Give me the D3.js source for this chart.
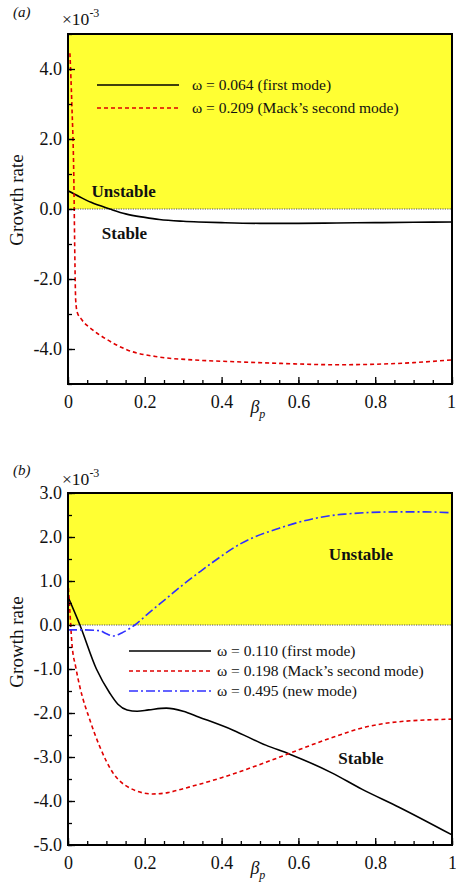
<!DOCTYPE html>
<html>
<head>
<meta charset="utf-8">
<script src="https://cdn.jsdelivr.net/npm/d3@7"></script>
<style>
  body { margin: 0; background: #fff; }
  svg text { font-family: "Liberation Serif", "Times New Roman", serif; fill: #111; }
</style>
</head>
<body>
<div id="content"></div>
<script>
'use strict';
//////////////////// input data
// panel (a)
const betaA1   = [0, 0.03, 0.06, 0.109, 0.15, 0.2, 0.238, 0.3, 0.34, 0.4, 0.5, 0.6, 0.7, 0.8, 0.9, 1.0];
const growthA1 = [0.52, 0.35, 0.19, 0, -0.14, -0.24, -0.30, -0.35, -0.37, -0.39, -0.41, -0.41, -0.40, -0.39, -0.38, -0.37];
const betaA2   = [0.005, 0.01, 0.015, 0.018, 0.02, 0.024, 0.035, 0.065, 0.1, 0.153, 0.238, 0.324, 0.45, 0.55, 0.7, 0.816, 0.9, 1.0];
const growthA2 = [4.45, 3.0, 1.0, -1.5, -2.6, -2.95, -3.15, -3.46, -3.72, -4.02, -4.23, -4.31, -4.37, -4.41, -4.45, -4.43, -4.39, -4.31];
const legendA  = ["\u03c9 = 0.064 (first mode)", "\u03c9 = 0.209 (Mack\u2019s second mode)"];

// panel (b)
const betaB1   = [0, 0.031, 0.074, 0.109, 0.13, 0.154, 0.18, 0.21, 0.256, 0.3, 0.34, 0.43, 0.515, 0.576, 0.687, 0.765, 0.862, 1.0];
const growthB1 = [0.64, 0, -1.0, -1.55, -1.8, -1.93, -1.96, -1.93, -1.89, -1.96, -2.09, -2.39, -2.73, -2.93, -3.36, -3.73, -4.14, -4.77];
const betaB2   = [0, 0.005, 0.01, 0.02, 0.031, 0.057, 0.083, 0.117, 0.16, 0.22, 0.26, 0.3, 0.4, 0.5, 0.576, 0.69, 0.775, 0.86, 1.0];
const growthB2 = [1.0, 0.3, -0.4, -0.95, -1.41, -2.16, -2.77, -3.36, -3.7, -3.84, -3.81, -3.72, -3.47, -3.17, -2.92, -2.55, -2.32, -2.2, -2.14];
const betaB3   = [0, 0.04, 0.083, 0.1, 0.117, 0.14, 0.174, 0.21, 0.256, 0.3, 0.342, 0.376, 0.45, 0.55, 0.636, 0.72, 0.852, 0.93, 1.0];
const growthB3 = [-0.11, -0.11, -0.13, -0.2, -0.25, -0.18, 0, 0.27, 0.6, 0.92, 1.2, 1.42, 1.85, 2.2, 2.41, 2.52, 2.57, 2.57, 2.55];
const legendB  = ["\u03c9 = 0.110 (first mode)", "\u03c9 = 0.198 (Mack\u2019s second mode)", "\u03c9 = 0.495 (new mode)"];

const xTicks = [0, 0.2, 0.4, 0.6, 0.8, 1];
const yTicksA = [-4, -2, 0, 2, 4];
const yTicksB = [-5, -4, -3, -2, -1, 0, 1, 2, 3];

const zip = (xs, ys) => xs.map((x, i) => ({x: x, y: ys[i]}));

//////////////////// drawing area
const W = 456, H = 890;
const svg = d3.select("#content").append("svg")
    .attr("width", W).attr("height", H);

const styles = {
  first:  {color: "#000",    dash: null,          width: 1.6},
  mack:   {color: "#e00000", dash: "4,3",         width: 1.6},
  newm:   {color: "#3030ff", dash: "9,3,2,3",     width: 1.6}
};

function drawPanel(cfg) {
  const g = svg.append("g").attr("transform", "translate(" + cfg.left + "," + cfg.top + ")");
  const iW = cfg.width, iH = cfg.height;

  const x = d3.scaleLinear().domain([0, 1]).range([0, iW]);
  const y = d3.scaleLinear().domain(cfg.yDomain).range([iH, 0]);

  const clipId = "clip-" + cfg.name;
  g.append("clipPath").attr("id", clipId)
    .append("rect").attr("width", iW).attr("height", iH);

  // unstable region
  g.append("rect")
    .attr("x", 0).attr("y", 0)
    .attr("width", iW).attr("height", y(0))
    .attr("fill", "#ffff33");

  // zero line
  g.append("line")
    .attr("x1", 0).attr("x2", iW).attr("y1", y(0)).attr("y2", y(0))
    .attr("stroke", "#555").attr("stroke-width", 1.2).attr("stroke-dasharray", "1.2,1.2");

  // region labels
  cfg.regionLabels.forEach(r => {
    g.append("text").attr("x", x(r.x)).attr("y", y(r.y))
      .attr("font-size", 17).attr("font-weight", "bold").attr("text-anchor", "middle")
      .text(r.text);
  });

  // curves
  const line = d3.line().x(d => x(d.x)).y(d => y(d.y)).curve(d3.curveMonotoneX);
  const curves = g.append("g").attr("clip-path", "url(#" + clipId + ")");
  cfg.series.forEach(s => {
    curves.append("path")
      .datum(zip(s.xs, s.ys))
      .attr("d", line)
      .attr("fill", "none")
      .attr("stroke", s.style.color)
      .attr("stroke-width", s.style.width)
      .attr("stroke-dasharray", s.style.dash);
  });

  // legend
  cfg.series.forEach((s, i) => {
    const ly = cfg.legend.y + i * cfg.legend.dy;
    g.append("line")
      .attr("x1", cfg.legend.x).attr("x2", cfg.legend.x + 82)
      .attr("y1", ly).attr("y2", ly)
      .attr("stroke", s.style.color).attr("stroke-width", s.style.width)
      .attr("stroke-dasharray", s.style.dash);
    g.append("text")
      .attr("x", cfg.legend.x + cfg.legend.gap).attr("y", ly + 5)
      .attr("font-size", 15.5)
      .text(s.label);
  });

  // axes, ticks pointing inward
  g.append("g")
    .call(d3.axisLeft(y).tickValues(cfg.yTicks).tickSize(-7).tickPadding(6)
      .tickFormat(d => d.toFixed(1)));
  g.append("g")
    .call(d3.axisLeft(y).tickValues(cfg.yMinor).tickSize(-4).tickFormat(""));
  g.append("g").attr("transform", "translate(0," + iH + ")")
    .call(d3.axisBottom(x).tickValues(xTicks).tickSize(-7).tickPadding(11)
      .tickFormat(d => String(d)));
  g.append("g").attr("transform", "translate(0," + iH + ")")
    .call(d3.axisBottom(x).tickValues(d3.range(0, 1.0001, 0.05)).tickSize(-4).tickFormat(""));

  g.selectAll(".domain").remove();
  g.selectAll(".tick line").attr("stroke", "#000").attr("stroke-width", 1.3);
  g.selectAll(".tick text").attr("font-size", 18).attr("font-family", "Liberation Serif").attr("fill", "#111");
  g.selectAll(".tick text").filter(d => d === 1 && cfg.yTicks.indexOf(1) < 0 || false).attr("dx", -1);

  // frame
  g.append("rect").attr("width", iW).attr("height", iH)
    .attr("fill", "none").attr("stroke", "#000").attr("stroke-width", 2);

  // panel tag and exponent
  g.append("text").attr("x", -55).attr("y", cfg.tagY)
    .attr("font-size", 15).attr("font-style", "italic").text("(" + cfg.name + ")");
  const ex = g.append("text").attr("x", -6).attr("y", cfg.expY).attr("font-size", 17.5);
  ex.append("tspan").text("\u00d710");
  ex.append("tspan").attr("dy", -8).attr("font-size", 12).text("-3");

  // axis titles
  g.append("text")
    .attr("transform", "translate(-45," + cfg.yTitleY + ") rotate(-90)")
    .attr("text-anchor", "middle").attr("font-size", 19)
    .text("Growth rate");
  const xt = g.append("text").attr("x", x(0.475)).attr("y", iH + 29).attr("font-size", 18).attr("font-style", "italic");
  xt.append("tspan").text("\u03b2");
  xt.append("tspan").attr("dy", 5).attr("font-size", 12).text("p");
}

drawPanel({
  name: "a", left: 68, top: 34, width: 384, height: 350,
  yDomain: [-5, 5], yTicks: yTicksA, yMinor: d3.range(-5, 5.01, 1),
  tagY: -17, expY: -9, yTitleY: 166,
  legend: {x: 29, y: 51, dy: 23, gap: 95},
  regionLabels: [{x: 0.145, y: 0.33, text: "Unstable"}, {x: 0.147, y: -0.86, text: "Stable"}],
  series: [
    {xs: betaA1, ys: growthA1, style: styles.first, label: legendA[0]},
    {xs: betaA2, ys: growthA2, style: styles.mack, label: legendA[1]}
  ]
});

drawPanel({
  name: "b", left: 68, top: 493, width: 384, height: 352,
  yDomain: [-5, 3], yTicks: yTicksB, yMinor: d3.range(-5, 3.01, 0.5),
  tagY: -18, expY: -8, yTitleY: 149,
  legend: {x: 61, y: 158, dy: 20, gap: 88},
  regionLabels: [{x: 0.763, y: 1.48, text: "Unstable"}, {x: 0.763, y: -3.16, text: "Stable"}],
  series: [
    {xs: betaB1, ys: growthB1, style: styles.first, label: legendB[0]},
    {xs: betaB2, ys: growthB2, style: styles.mack, label: legendB[1]},
    {xs: betaB3, ys: growthB3, style: styles.newm, label: legendB[2]}
  ]
});
</script>
</body>
</html>
